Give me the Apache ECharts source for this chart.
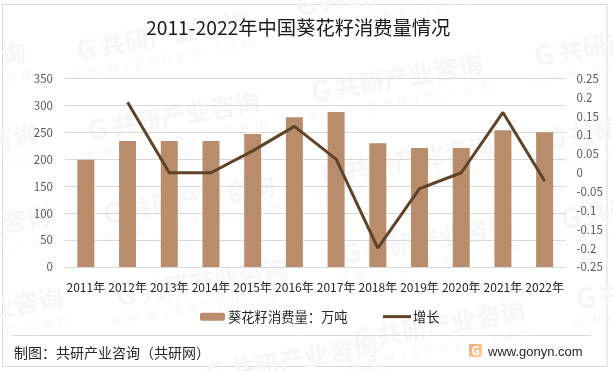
<!DOCTYPE html>
<html>
<head>
<meta charset="utf-8">
<style>
  html, body { margin: 0; padding: 0; background: #fff; }
  #chart { width: 613px; height: 371px; }
</style>
</head>
<body>
<div id="chart"></div>
<script src="https://cdn.jsdelivr.net/npm/echarts@6/dist/echarts.min.js"></script>
<script>
const years = ["2011年", "2012年", "2013年", "2014年", "2015年", "2016年", "2017年", "2018年", "2019年", "2020年", "2021年", "2022年"];
const consumption = [199, 234, 234, 234, 247, 278, 288, 230, 221, 221, 254, 250];
const growth = [null, 0.187, 0, 0, 0.058, 0.123, 0.036, -0.2, -0.042, 0, 0.16, -0.022];

const font = '"Noto Sans CJK SC", "Noto Sans", sans-serif';
const wmColor = "#f6f6f6";
// centres of the faint repeated watermark
const marks = [
  [160, 36], [172, 116], [187, 200], [200, 282], [290, 360],
  [-62, 66], [-50, 148], [-37, 230], [-25, 312],
  [395, 78], [405, 160], [425, 240], [437, 325],
  [618, 42], [630, 125], [645, 205], [660, 285], [380, -8]
];

function watermark(p) {
  return {
    type: "group",
    x: p[0],
    y: p[1],
    rotation: 0.17,
    silent: true,
    z: -10,
    children: [
      { type: "text", x: -75, y: 0, style: { text: "G", font: "bold 28px " + font, fill: wmColor, align: "center", verticalAlign: "middle" } },
      { type: "text", x: 14, y: 0, style: { text: "共研产业咨询", font: "bold 25px " + font, fill: wmColor, align: "center", verticalAlign: "middle" } },
      { type: "text", x: 0, y: 22, style: { text: "w  w  w  .  g  o  n  y  n  .  c  o  m", font: "14px " + font, fill: wmColor, align: "center", verticalAlign: "middle" } }
    ]
  };
}

const myChart = echarts.init(document.getElementById("chart"));
var option = {
  animation: false,
  backgroundColor: "#fff",
  textStyle: { fontFamily: font },
  title: {
    text: "2011-2022年中国葵花籽消费量情况",
    left: 141,
    top: 13,
    textStyle: { fontFamily: font, fontSize: 19.3, fontWeight: "normal", color: "#1a1a1a" },
  },
  grid: { left: 65, right: 47.5, top: 78.5, bottom: 104 },
  legend: [
    {
      top: 305,
      left: 195,
      itemWidth: 25,
      itemHeight: 8,
      selectedMode: false,
      textStyle: { fontFamily: font, fontSize: 13.3, color: "#262626", padding: [0, 0, 0, -2] },
      data: [{ name: "葵花籽消费量：万吨", itemStyle: { color: "#b98d6b" } }],
    },
    {
      top: 305,
      left: 378,
      itemWidth: 28,
      itemHeight: 3,
      icon: "rect",
      selectedMode: false,
      textStyle: { fontFamily: font, fontSize: 13.3, color: "#262626", padding: [0, 0, 0, -3] },
      data: [{ name: "增长", itemStyle: { color: "#5f4329" } }],
    },
  ],
  xAxis: {
    type: "category",
    data: years,
    axisTick: { show: false },
    axisLine: { lineStyle: { color: "#d9d9d9" } },
    axisLabel: { interval: 0, margin: 14, fontSize: 12, color: "#262626", fontFamily: font },
  },
  yAxis: [
    {
      type: "value",
      min: 0,
      max: 350,
      interval: 50,
      axisLine: { show: false },
      axisTick: { show: false },
      axisLabel: { margin: 12, fontSize: 11.5, color: "#595959", fontFamily: font },
      splitLine: { lineStyle: { color: "#d9d9d9", width: 1 } },
    },
    {
      type: "value",
      min: -0.25,
      max: 0.25,
      interval: 0.05,
      axisLine: { show: false },
      axisTick: { show: false },
      axisLabel: { margin: 11, align: "left", fontSize: 11.5, color: "#595959", fontFamily: font },
      splitLine: { show: false },
    },
  ],
  series: [
    {
      name: "葵花籽消费量：万吨",
      type: "bar",
      data: consumption,
      barWidth: 17,
      itemStyle: { color: "#b98d6b" },
    },
    {
      name: "增长",
      type: "line",
      yAxisIndex: 1,
      data: growth,
      symbol: "none",
      lineStyle: { color: "#5f4329", width: 3 },
      itemStyle: { color: "#5f4329" },
    },
  ],
  graphic: {
    elements: marks.map(watermark).concat([
      { type: "rect", silent: true, z: -5, shape: { x: 2.5, y: 4.5, width: 604.5, height: 362 }, style: { fill: "none", stroke: "#d9d9d9", lineWidth: 1 } },
      { type: "line", silent: true, shape: { x1: 12, y1: 335.5, x2: 591, y2: 335.5 }, style: { stroke: "#d9d9d9", lineWidth: 1 } },
      { type: "text", x: 14, y: 353, style: { text: "制图：共研产业咨询（共研网）", font: "14px " + font, fill: "#262626", verticalAlign: "middle" } },
      { type: "rect", silent: true, shape: { x: 469, y: 344, width: 13, height: 13, r: 2 }, style: { fill: new echarts.graphic.LinearGradient(0, 0, 1, 1, [{ offset: 0, color: "#f7a56e" }, { offset: 1, color: "#fbd89c" }]) } },
      { type: "text", silent: true, x: 475.5, y: 350.5, style: { text: "G", font: "bold 12px " + font, fill: "#fff", align: "center", verticalAlign: "middle" } },
      { type: "text", x: 488, y: 352, style: { text: "www.gonyn.com", font: '13px "Liberation Sans", sans-serif', fill: "#262626", verticalAlign: "middle" } }
    ]),
  },
};
myChart.setOption(option);
</script>
</body>
</html>
